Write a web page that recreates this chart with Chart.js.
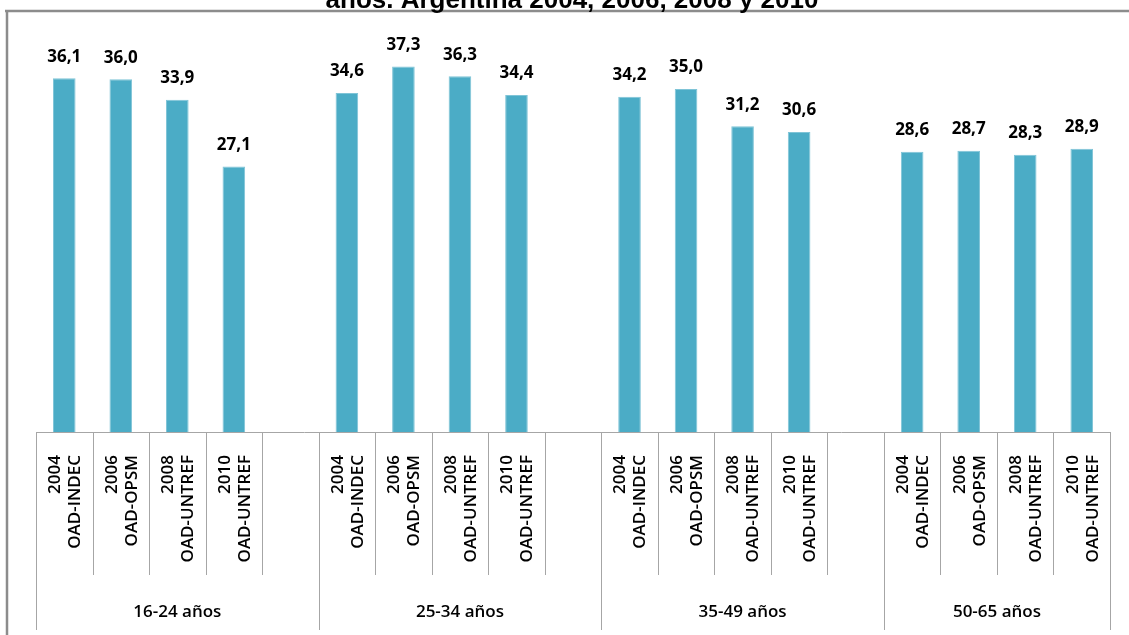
<!DOCTYPE html>
<html>
<head>
<meta charset="utf-8">
<script src="https://cdn.jsdelivr.net/npm/chart.js@4.4.0/dist/chart.umd.min.js"></script>
<style>
    html, body { margin: 0; padding: 0; background: #fff; }
    #wrap { width: 1129px; height: 635px; position: relative; }
</style>
</head>
<body>
<div id="wrap"><canvas id="chart"></canvas></div>
<script>
// Données
const titleText = 'años. Argentina 2004, 2006, 2008 y 2010';
const groups = ['16-24 años', '25-34 años', '35-49 años', '50-65 años'];
const sources = [['2004', 'OAD-INDEC'], ['2006', 'OAD-OPSM'], ['2008', 'OAD-UNTREF'], ['2010', 'OAD-UNTREF']];
const values1624 = [36.1, 36.0, 33.9, 27.1];
const values2534 = [34.6, 37.3, 36.3, 34.4];
const values3549 = [34.2, 35.0, 31.2, 30.6];
const values5065 = [28.6, 28.7, 28.3, 28.9];
const groupValues = [values1624, values2534, values3549, values5065];

// Construction des catégories (un emplacement vide entre les groupes)
const labels = [];
const data = [];
const slotGroup = [];
groups.forEach((g, gi) => {
    sources.forEach((s, si) => {
        labels.push(s);
        data.push(groupValues[gi][si]);
        slotGroup.push(gi);
    });
    if (gi < groups.length - 1) {
        labels.push('');
        data.push(null);
        slotGroup.push(gi);
    }
});

const fmt = v => v.toFixed(1).replace('.', ',');

const axisPlugin = {
    id: 'axisPlugin',
    afterDraw(chart) {
        const ctx = chart.ctx;
        const xs = chart.scales.x;
        const area = chart.chartArea;
        const n = labels.length;
        const w = (xs.getPixelForValue(1) - xs.getPixelForValue(0));
        const axisY = area.bottom;
        const rowY = 575;
        const bottomY = 630;

        ctx.save();

        // cadre
        ctx.strokeStyle = '#8c8c8c';
        ctx.lineWidth = 2.5;
        ctx.beginPath();
        ctx.moveTo(5, 11);
        ctx.lineTo(chart.width, 11);
        ctx.moveTo(7, 11);
        ctx.lineTo(7, chart.height);
        ctx.stroke();

        // titre (coupé en haut)
        ctx.fillStyle = '#000';
        ctx.font = 'bold 26px "Liberation Sans", Arial, sans-serif';
        ctx.textAlign = 'center';
        ctx.textBaseline = 'alphabetic';
        ctx.fillText(titleText, 572, 8);

        // axe
        ctx.strokeStyle = '#a6a6a6';
        ctx.lineWidth = 1;
        ctx.beginPath();
        ctx.moveTo(xs.left, axisY + 0.5);
        ctx.lineTo(xs.right, axisY + 0.5);
        ctx.stroke();

        // séparateurs
        ctx.beginPath();
        for (let i = 0; i <= n; i++) {
            const x = Math.round(xs.getPixelForValue(0) - w / 2 + i * w) + 0.5;
            const groupEdge = i === 0 || i === n || slotGroup[i] !== slotGroup[i - 1];
            const prevIsBar = i > 0 && labels[i - 1] !== '';
            const nextIsBar = i < n && labels[i] !== '';
            if (groupEdge) {
                ctx.moveTo(x, axisY);
                ctx.lineTo(x, bottomY);
            } else if (prevIsBar || nextIsBar) {
                ctx.moveTo(x, axisY);
                ctx.lineTo(x, rowY);
            }
        }
        ctx.stroke();

        // étiquettes verticales
        ctx.fillStyle = '#000';
        ctx.font = '600 17px "Open Sans", sans-serif';
        ctx.textAlign = 'right';
        ctx.textBaseline = 'middle';
        const lh = 20;
        labels.forEach((lab, i) => {
            if (!lab) return;
            const x = xs.getPixelForValue(i) + 1;
            ctx.save();
            ctx.translate(x, 455);
            ctx.rotate(-Math.PI / 2);
            ctx.fillText(lab[0], 0, -lh / 2);
            ctx.fillText(lab[1], 0, lh / 2);
            ctx.restore();
        });

        // étiquettes de groupe
        ctx.font = '600 17px "Open Sans", sans-serif';
        ctx.textAlign = 'center';
        groups.forEach((g, gi) => {
            const idx = slotGroup.map((s, i) => s === gi ? i : -1).filter(i => i >= 0);
            const first = xs.getPixelForValue(idx[0]) - w / 2;
            const last = xs.getPixelForValue(idx[idx.length - 1]) + w / 2;
            ctx.fillText(g, (first + last) / 2, 612);
        });

        // valeurs au-dessus des barres
        ctx.font = 'bold 17px "Open Sans", sans-serif';
        ctx.textBaseline = 'bottom';
        const meta = chart.getDatasetMeta(0);
        meta.data.forEach((bar, i) => {
            if (data[i] == null) return;
            ctx.fillText(fmt(data[i]), bar.x, bar.y - 13);
        });

        ctx.restore();
    }
};

new Chart(document.getElementById('chart'), {
    type: 'bar',
    data: {
        labels: labels,
        datasets: [{
            data: data,
            backgroundColor: '#4BACC6',
            borderColor: '#7fc4d7',
            borderWidth: 1,
            categoryPercentage: 1.0,
            barPercentage: 0.4
        }]
    },
    options: {
        responsive: true,
        maintainAspectRatio: false,
        animation: false,
        layout: {
            padding: { left: 36, right: 19, top: 40, bottom: 203 }
        },
        plugins: {
            legend: { display: false },
            tooltip: { enabled: false }
        },
        scales: {
            x: { display: false, offset: true },
            y: { display: false, min: 0, max: 40 }
        }
    },
    plugins: [axisPlugin]
});
</script>
</body>
</html>
